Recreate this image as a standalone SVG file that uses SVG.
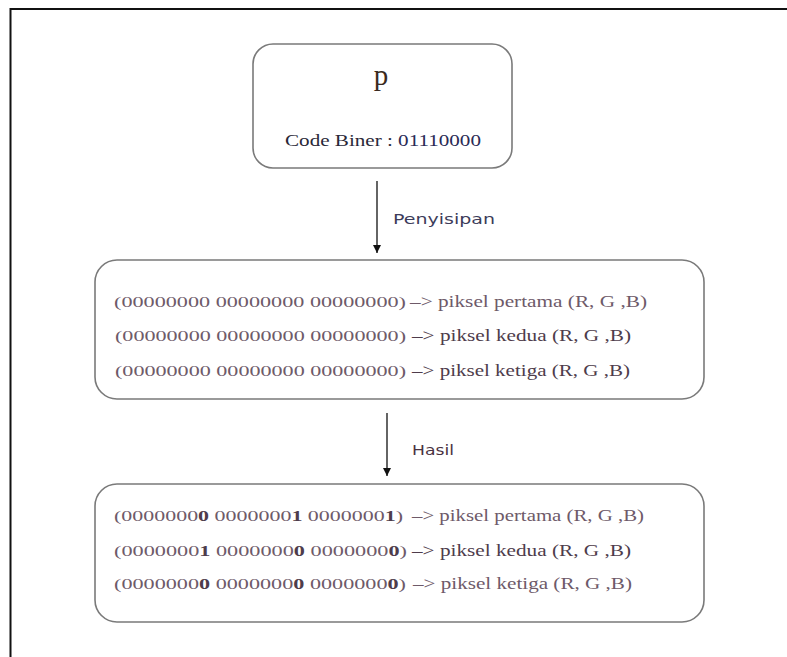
<svg xmlns="http://www.w3.org/2000/svg" width="787" height="657" viewBox="0 0 787 657">
  <defs>
    <marker id="arrow" viewBox="0 0 10 10" refX="9" refY="5" markerWidth="10" markerHeight="10" markerUnits="userSpaceOnUse" orient="auto">
      <path d="M1,1 L9,5 L1,9 Z" fill="#111"/>
    </marker>
  </defs>
  <style>
    .box { fill: #fff; stroke: #7a7a7a; stroke-width: 1.6; }
    .bin { font-family: "Liberation Serif", "DejaVu Serif", serif; font-size: 15px; fill: #6e5a69; }
    .lbl { font-family: "Liberation Serif", "DejaVu Serif", serif; font-size: 17px; fill: #6e5a69; }
    .dark { fill: #4e3c4b; }
    .b { font-weight: bold; fill: #4e3c4b; }
    .edge { font-family: "DejaVu Sans", "Liberation Sans", sans-serif; font-size: 14px; }
    .conn { stroke: #111; stroke-width: 1.3; fill: none; }
  </style>
  <rect width="787" height="657" fill="#fff"/>
  <!-- outer frame -->
  <path d="M10.5,657 V9 H787" fill="none" stroke="#111" stroke-width="2"/>

  <g id="char-node">
    <rect class="box" x="253" y="44" width="259" height="124" rx="20" ry="20"/>
    <text x="381" y="85" text-anchor="middle" font-family="Liberation Serif, serif" font-size="29" fill="#3a2a20">p</text>
    <text x="285" y="146" font-family="Liberation Serif, serif" font-size="17" fill="#2a2838" textLength="196" lengthAdjust="spacingAndGlyphs">Code Biner : <tspan fill="#2a2a55">01110000</tspan></text>
  </g>

  <g id="pixels-before">
    <rect class="box" x="95" y="260" width="609" height="139" rx="22" ry="22"/>
    <text class="bin" x="114" y="307" textLength="292" lengthAdjust="spacingAndGlyphs">(00000000 00000000 00000000)</text>
    <text class="lbl" x="410" y="307" textLength="237" lengthAdjust="spacingAndGlyphs">–&gt; piksel pertama (R, G ,B)</text>
    <text class="bin" x="115" y="341" textLength="291" lengthAdjust="spacingAndGlyphs">(00000000 00000000 00000000)</text>
    <text class="lbl dark" x="412" y="341" textLength="219" lengthAdjust="spacingAndGlyphs">–&gt; piksel kedua (R, G ,B)</text>
    <text class="bin" x="115" y="376" textLength="291" lengthAdjust="spacingAndGlyphs">(00000000 00000000 00000000)</text>
    <text class="lbl dark" x="412" y="376" textLength="218" lengthAdjust="spacingAndGlyphs">–&gt; piksel ketiga (R, G ,B)</text>
  </g>

  <g id="pixels-after">
    <rect class="box" x="95" y="484" width="609" height="138" rx="22" ry="22"/>
    <text class="bin" x="114" y="521" textLength="289" lengthAdjust="spacingAndGlyphs">(0000000<tspan class="b">0</tspan> 0000000<tspan class="b">1</tspan> 0000000<tspan class="b">1</tspan>)</text>
    <text class="lbl" x="412" y="521" textLength="232" lengthAdjust="spacingAndGlyphs">–&gt; piksel pertama (R, G ,B)</text>
    <text class="bin" x="114" y="556" textLength="293" lengthAdjust="spacingAndGlyphs">(0000000<tspan class="b">1</tspan> 0000000<tspan class="b">0</tspan> 0000000<tspan class="b">0</tspan>)</text>
    <text class="lbl dark" x="412" y="556" textLength="219" lengthAdjust="spacingAndGlyphs">–&gt; piksel kedua (R, G ,B)</text>
    <text class="bin" x="114" y="589" textLength="292" lengthAdjust="spacingAndGlyphs">(0000000<tspan class="b">0</tspan> 0000000<tspan class="b">0</tspan> 0000000<tspan class="b">0</tspan>)</text>
    <text class="lbl" x="413" y="589" textLength="219" lengthAdjust="spacingAndGlyphs">–&gt; piksel ketiga (R, G ,B)</text>
  </g>

  <g id="connectors">
    <line class="conn" x1="377" y1="181" x2="377" y2="253" marker-end="url(#arrow)"/>
    <text class="edge" x="393" y="224" fill="#3c3c5a" textLength="102" lengthAdjust="spacingAndGlyphs">Penyisipan</text>
    <line class="conn" x1="387" y1="413" x2="387" y2="476" marker-end="url(#arrow)"/>
    <text class="edge" x="412" y="455" fill="#4a3242" textLength="42" lengthAdjust="spacingAndGlyphs">Hasil</text>
  </g>
</svg>
